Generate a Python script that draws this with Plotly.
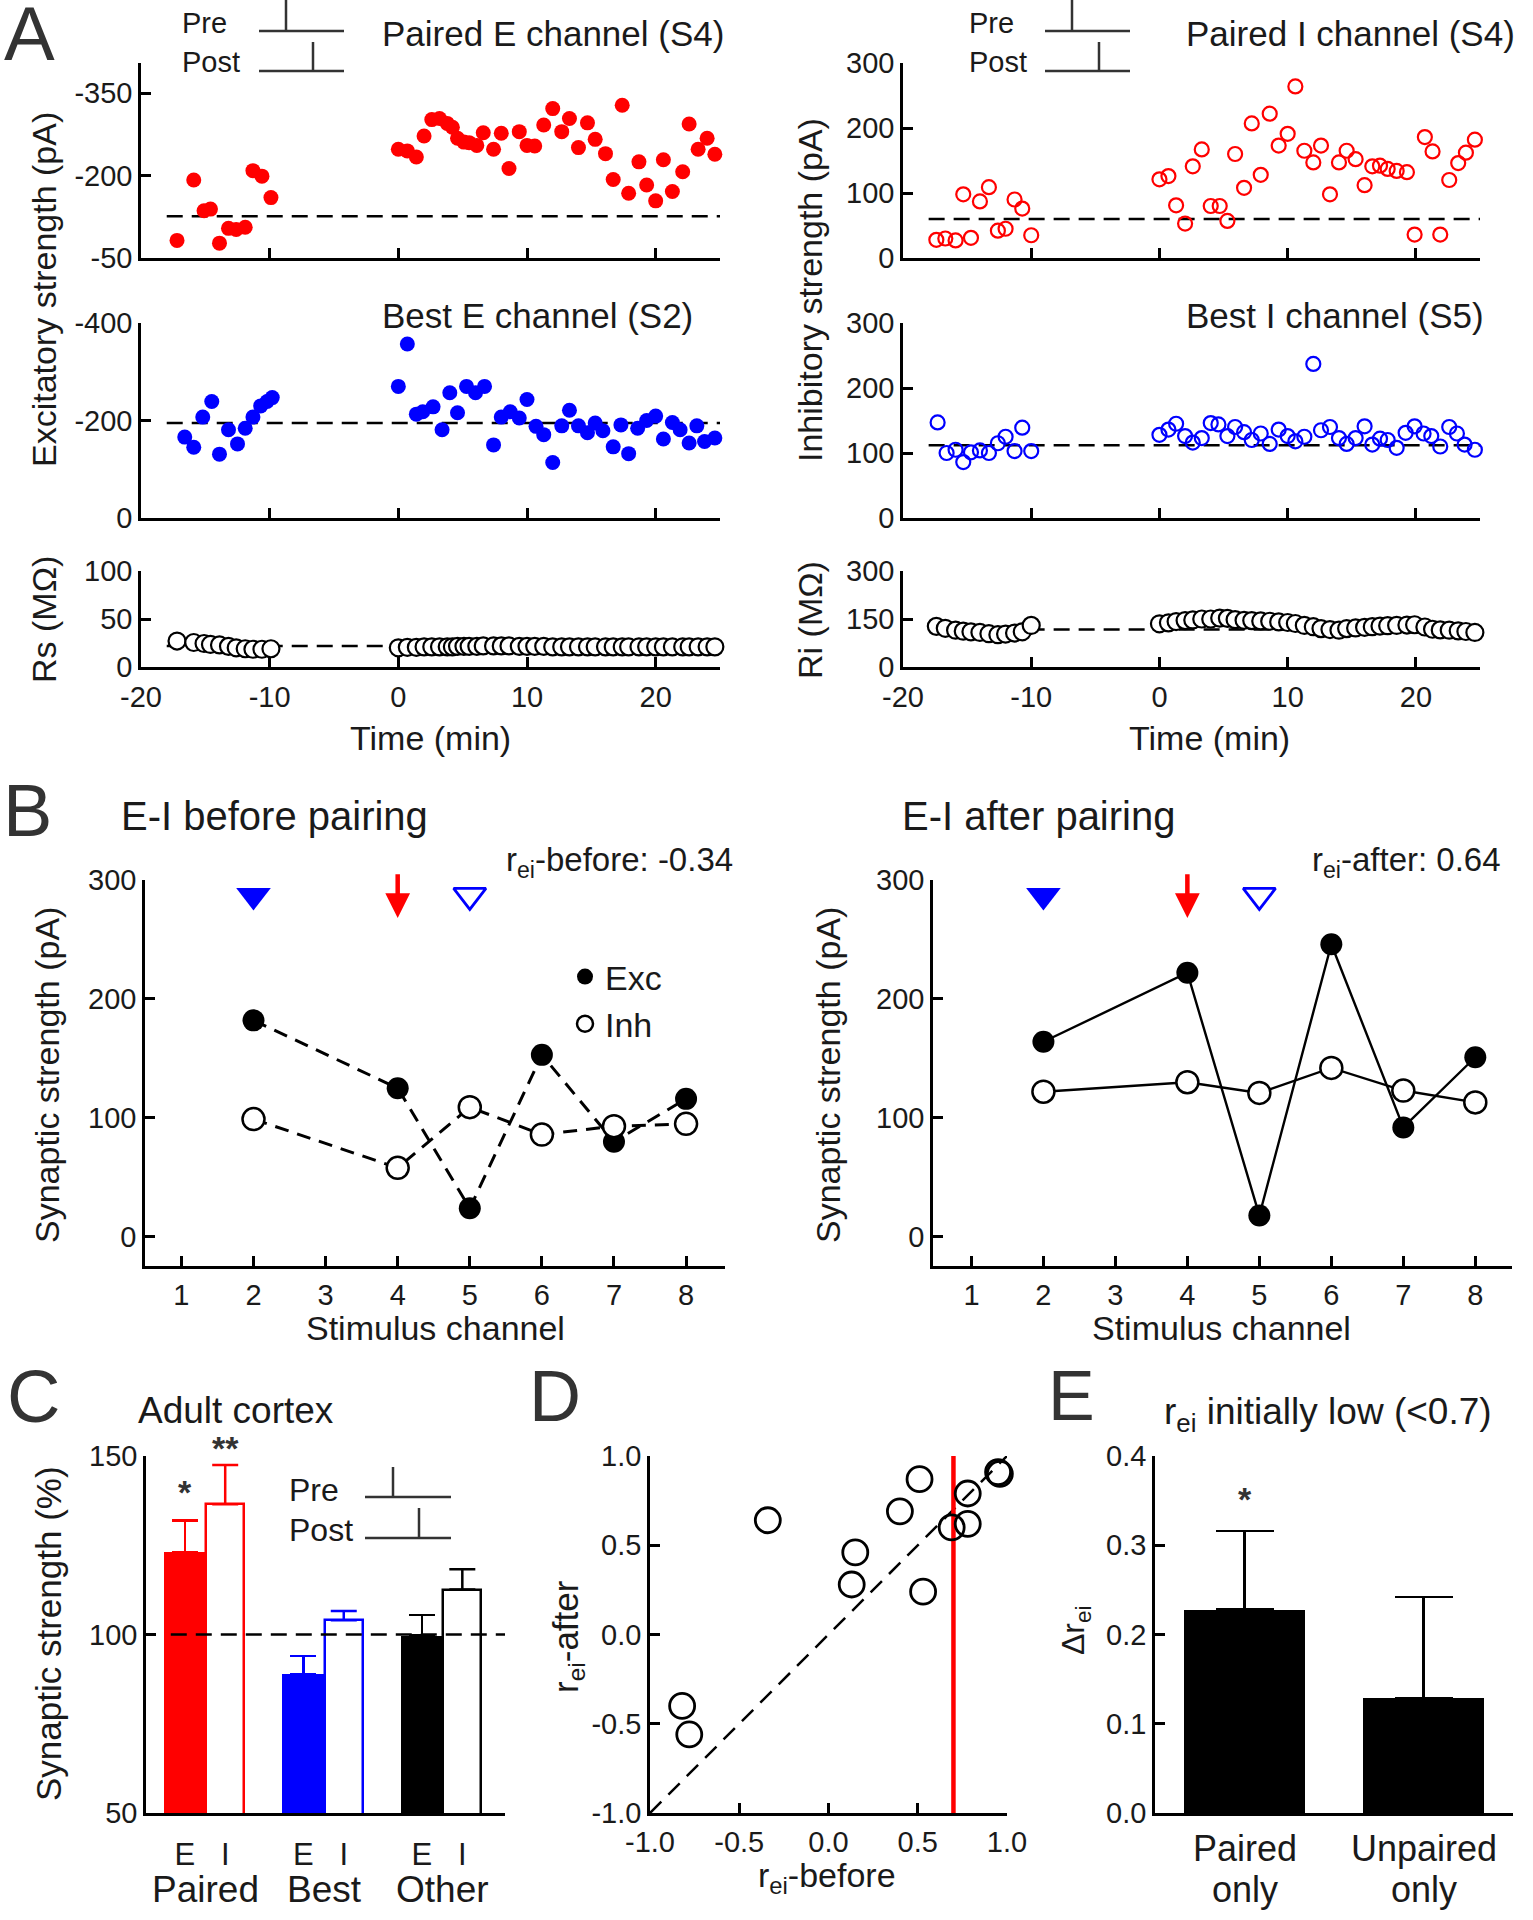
import plotly.graph_objects as go

W, H = 1533, 1920
REG = "Liberation Sans, Arial, sans-serif"
RED, BLUE, BLACK, TXT = "#ff0000", "#0000ff", "#000000", "#1a1a1a"

# ---------------- Panel A data ----------------
pe_t_pre = [-17.2, -15.9, -15.1, -14.6, -13.9, -13.2, -12.6, -11.9, -11.3, -10.6, -9.9]
pe_v_pre = [-82, -192, -136, -139, -77, -104, -102, -106, -209, -199, -160]
pe_t_post = [0.0, 0.7, 1.4, 2.0, 2.6, 3.2, 3.8, 4.2, 4.6, 5.1, 5.5, 6.1, 6.6, 7.4, 8.0, 8.6, 9.4, 10.0, 10.6, 11.3,
             12.0, 12.7, 13.3, 14.0, 14.7, 15.3, 16.1, 16.7, 17.4, 17.9, 18.7, 19.3, 20.0, 20.6, 21.3, 22.1, 22.6, 23.3, 24.0, 24.6]
pe_v_post = [-248, -245, -234, -272, -302, -304, -295, -288, -268, -261, -260, -255, -278, -248, -277, -213, -280, -255, -254, -292,
             -322, -280, -304, -251, -296, -266, -240, -193, -328, -168, -225, -183, -154, -229, -171, -207, -294, -248, -268, -239]
pe_base = -126

pi_t_pre = [-17.4, -16.7, -15.9, -15.3, -14.7, -14.0, -13.3, -12.6, -12.0, -11.3, -10.7, -10.0]
pi_v_pre = [28, 30, 27, 98, 31, 87, 109, 42, 45, 90, 76, 35]
pi_t_post = [0.0, 0.7, 1.3, 2.0, 2.6, 3.3, 4.0, 4.7, 5.3, 5.9, 6.6, 7.2, 7.9, 8.6, 9.3, 10.0, 10.6, 11.3, 12.0, 12.6,
             13.3, 14.0, 14.6, 15.3, 16.0, 16.6, 17.2, 17.8, 18.5, 19.3, 19.9, 20.7, 21.3, 21.9, 22.6, 23.3, 23.9, 24.6]
pi_v_post = [121, 126, 81, 53, 141, 167, 80, 80, 57, 160, 108, 207, 128, 222, 173, 191, 264, 165, 147, 173,
             98, 147, 165, 152, 112, 141, 142, 137, 134, 132, 36, 186, 164, 36, 120, 146, 162, 182]
pi_base = 60

be_t_pre = [-16.6, -15.9, -15.2, -14.5, -13.9, -13.2, -12.5, -11.9, -11.3, -10.7, -10.2, -9.8]
be_v_pre = [-166, -145, -207, -239, -131, -181, -152, -184, -207, -230, -239, -247]
be_t_post = [0.0, 0.7, 1.4, 1.9, 2.7, 3.4, 4.0, 4.6, 5.3, 6.0, 6.7, 7.4, 8.0, 8.7, 9.4, 10.0, 10.7, 11.3, 12.0, 12.7,
             13.3, 14.0, 14.7, 15.3, 15.9, 16.7, 17.3, 17.9, 18.6, 19.3, 20.0, 20.6, 21.3, 21.9, 22.6, 23.2, 23.8, 24.6]
be_v_post = [-270, -357, -213, -218, -228, -181, -257, -216, -270, -257, -270, -150, -207, -218, -205, -243, -188, -171, -114, -189,
             -221, -189, -175, -195, -179, -146, -191, -132, -184, -200, -209, -162, -196, -181, -154, -189, -157, -164]
be_base = -195

bi_t_pre = [-17.3, -16.6, -15.9, -15.3, -14.7, -14.0, -13.3, -12.6, -12.0, -11.3, -10.7, -10.0]
bi_v_pre = [147, 100, 105, 86, 101, 104, 100, 115, 125, 103, 139, 103]
bi_t_post = [0.0, 0.7, 1.3, 2.0, 2.6, 3.3, 4.0, 4.6, 5.3, 5.9, 6.6, 7.2, 7.9, 8.6, 9.3, 10.0, 10.6, 11.3, 12.0, 12.6,
             13.3, 14.0, 14.6, 15.3, 16.0, 16.6, 17.2, 17.8, 18.5, 19.2, 19.9, 20.6, 21.2, 21.9, 22.6, 23.2, 23.8, 24.6]
bi_v_post = [128, 136, 145, 126, 116, 123, 146, 144, 126, 140, 132, 120, 130, 114, 136, 126, 118, 125, 237, 135,
             140, 123, 114, 123, 141, 113, 122, 120, 108, 131, 141, 130, 126, 110, 140, 130, 113, 105]
bi_base = 112

rs_pre = [27, 25.5, 24.5, 23.5, 23, 21.5, 20, 19, 18.5, 18.5, 19]
rs_post = [20, 20.5, 20.5, 21, 21, 21, 21, 21, 21.5, 21.5, 21.5, 21.5, 22, 22, 22, 22, 21.5, 21.5, 21.5, 21.5,
           21, 21, 21, 21, 21, 21, 21, 21, 21, 21, 21, 21, 21, 21, 21, 21, 21, 21, 21, 21]
rs_base = 22

ri_pre = [127, 121, 115, 112, 110, 108, 104, 101, 103, 106, 110, 130]
ri_post = [135, 138, 142, 145, 147, 150, 150, 153, 152, 148, 146, 145, 144, 143, 141, 139, 136, 130, 126, 120,
           117, 115, 120, 122, 124, 126, 128, 129, 130, 131, 132, 125, 118, 116, 115, 113, 111, 108]
ri_base = 117

# ---------------- Panel B data ----------------
channels = [2, 4, 5, 6, 7, 8]
exc_before = [182, 125, 24, 153, 80, 116]
inh_before = [99, 58, 109, 86, 93, 95]
exc_after = [164, 222, 18, 246, 92, 151]
inh_after = [122, 130, 121, 142, 123, 113]
best_e_ch, paired_ch, best_i_ch = 2, 4, 5
marker_level = 287

# ---------------- Panel C data ----------------
c_groups = ["Paired", "Best", "Other"]
c_colors = [RED, BLUE, BLACK]
c_exc = [123, 89, 99.7]
c_exc_err = [9, 5, 5.7]
c_inh = [136.5, 104, 112.6]
c_inh_err = [11, 2.6, 5.7]

# ---------------- Panel D data ----------------
d_before = [-0.34, -0.82, -0.78, 0.15, 0.13, 0.40, 0.51, 0.53, 0.69, 0.78, 0.78, 0.95, 0.96]
d_after = [0.64, -0.40, -0.56, 0.46, 0.28, 0.69, 0.87, 0.24, 0.60, 0.79, 0.62, 0.91, 0.90]
d_threshold = 0.7

# ---------------- Panel E data ----------------
e_groups = [("Paired", "only"), ("Unpaired", "only")]
e_vals = [0.228, 0.129]
e_err = [0.088, 0.113]


def dx(a, b):
    return [a / W, b / W]


def dy(top, bottom):
    return [1 - bottom / H, 1 - top / H]


def px(x):
    return x / W


def py(y):
    return 1 - y / H


fig = go.Figure()
layout = dict(width=W, height=H, margin=dict(l=0, r=0, t=0, b=0, autoexpand=False),
              paper_bgcolor="white", plot_bgcolor="white", showlegend=True)


def add_axes(i, xd, yd, xkw, ykw, tsize):
    base = dict(showline=True, linecolor="black", linewidth=2.5, ticks="inside", ticklen=10,
                tickwidth=2.5, tickcolor="black", showgrid=False, zeroline=False, automargin=False,
                tickfont=dict(family=REG, size=tsize, color=TXT))
    xa = dict(base, domain=xd, anchor=("y" if i == 1 else f"y{i}"))
    xa.update(xkw)
    ya = dict(base, domain=yd, anchor=("x" if i == 1 else f"x{i}"))
    ya.update(ykw)
    layout["xaxis" if i == 1 else f"xaxis{i}"] = xa
    layout["yaxis" if i == 1 else f"yaxis{i}"] = ya


def ax(i):
    return ("x" if i == 1 else f"x{i}"), ("y" if i == 1 else f"y{i}")


# Panel A axes
LX, RX = (141, 720), (903, 1480)
ROWS = [(63, 258), (323, 518), (571, 667)]
xa_noline = dict(range=[-20, 25], tickvals=[-10, 0, 10, 20], showticklabels=False)
xa_lab = dict(range=[-20, 25], tickvals=[-20, -10, 0, 10, 20],
              ticktext=["-20", "-10", "0", "10", "20"], ticklabelstandoff=2)
AT = 29
add_axes(1, dx(*LX), dy(*ROWS[0]), xa_noline,
         dict(range=[-50, -405], tickvals=[-350, -200, -50], ticktext=["-350", "-200", "-50"]), AT)
add_axes(2, dx(*RX), dy(*ROWS[0]), xa_noline,
         dict(range=[0, 300], tickvals=[0, 100, 200, 300], ticktext=["0", "100", "200", "300"]), AT)
add_axes(3, dx(*LX), dy(*ROWS[1]), xa_noline,
         dict(range=[0, -400], tickvals=[-400, -200, 0], ticktext=["-400", "-200", "0"]), AT)
add_axes(4, dx(*RX), dy(*ROWS[1]), xa_noline,
         dict(range=[0, 300], tickvals=[0, 100, 200, 300], ticktext=["0", "100", "200", "300"]), AT)
add_axes(5, dx(*LX), dy(*ROWS[2]), xa_lab,
         dict(range=[0, 100], tickvals=[0, 50, 100], ticktext=["0", "50", "100"]), AT)
add_axes(6, dx(*RX), dy(*ROWS[2]), xa_lab,
         dict(range=[0, 300], tickvals=[0, 150, 300], ticktext=["0", "150", "300"]), AT)

# Panel B axes
by = dict(range=[-24.5, 300], tickvals=[0, 100, 200, 300])
add_axes(7, dx(145, 725), dy(880, 1266),
         dict(range=[0.495, 8.54], tickvals=[1, 2, 3, 4, 5, 6, 7, 8], ticklabelstandoff=1), by, 29)
add_axes(8, dx(933, 1512), dy(880, 1266),
         dict(range=[0.466, 8.51], tickvals=[1, 2, 3, 4, 5, 6, 7, 8], ticklabelstandoff=1), by, 29)

# Panel C axes
c_pos_e = [-0.177, 0.823, 1.823]
c_pos_i = [0.164, 1.164, 2.164]
add_axes(9, dx(146, 505), dy(1456, 1813),
         dict(range=[-0.504, 2.524], tickvals=c_pos_e + c_pos_i, ticktext=["E"] * 3 + ["I"] * 3,
              ticks="", tickfont=dict(family=REG, size=31, color=TXT), ticklabelstandoff=12),
         dict(range=[50, 150], tickvals=[50, 100, 150]), 29)

# Panel D axes
dticks = [-1, -0.5, 0, 0.5, 1]
dtext = ["-1.0", "-0.5", "0.0", "0.5", "1.0"]
add_axes(10, dx(650, 1007), dy(1456, 1813),
         dict(range=[-1, 1], tickvals=dticks, ticktext=dtext, ticklabelstandoff=1),
         dict(range=[-1, 1], tickvals=dticks, ticktext=dtext), 29)

# Panel E axes
add_axes(11, dx(1155, 1513), dy(1456, 1813),
         dict(range=[-0.5, 1.5], tickvals=[0, 1], showticklabels=False, ticks=""),
         dict(range=[0, 0.4], tickvals=[0, 0.1, 0.2, 0.3, 0.4], ticktext=["0.0", "0.1", "0.2", "0.3", "0.4"]), 29)


def sc(i, x, y, **kw):
    xa, ya = ax(i)
    fig.add_trace(go.Scatter(x=x, y=y, xaxis=xa, yaxis=ya, showlegend=False, cliponaxis=False, **kw))


filled = lambda c: dict(size=15, color=c, line=dict(width=0))
openm = lambda c: dict(size=14, color="rgba(0,0,0,0)", line=dict(width=2.2, color=c))

shapes = []
DASH = "16px,9px"


def hline(i, y, x0=-18, x1=25):
    xa, ya = ax(i)
    shapes.append(dict(type="line", xref=xa, yref=ya, x0=x0, x1=x1, y0=y, y1=y,
                       line=dict(color="black", width=2.5, dash=DASH), layer="below"))


# Panel A traces
hline(1, pe_base)
sc(1, pe_t_pre + pe_t_post, pe_v_pre + pe_v_post, mode="markers", marker=filled(RED))
hline(2, pi_base)
sc(2, pi_t_pre + pi_t_post, pi_v_pre + pi_v_post, mode="markers", marker=openm(RED))
hline(3, be_base)
sc(3, be_t_pre + be_t_post, be_v_pre + be_v_post, mode="markers", marker=filled(BLUE))
hline(4, bi_base)
sc(4, bi_t_pre + bi_t_post, bi_v_pre + bi_v_post, mode="markers", marker=openm(BLUE))
hline(5, rs_base)
sc(5, pe_t_pre + pe_t_post, rs_pre + rs_post, mode="markers",
   marker=dict(size=17, color="white", line=dict(width=2.2, color="black")))
hline(6, ri_base)
sc(6, pi_t_pre + pi_t_post, ri_pre + ri_post, mode="markers",
   marker=dict(size=17, color="white", line=dict(width=2.2, color="black")))

# Panel B traces
sc(7, channels, exc_before, mode="lines+markers", line=dict(color="black", width=3, dash="14px,9px"),
   marker=dict(size=22, color="black"))
sc(7, channels, inh_before, mode="lines+markers", line=dict(color="black", width=3, dash="14px,9px"),
   marker=dict(size=22, color="white", line=dict(width=2.5, color="black")))
sc(8, channels, exc_after, mode="lines+markers", line=dict(color="black", width=2.4),
   marker=dict(size=22, color="black"))
sc(8, channels, inh_after, mode="lines+markers", line=dict(color="black", width=2.4),
   marker=dict(size=22, color="white", line=dict(width=2.5, color="black")))
for i in (7, 8):
    sc(i, [best_e_ch], [marker_level], mode="markers",
       marker=dict(symbol="triangle-down", size=30, color=BLUE, line=dict(width=0)))
    sc(i, [best_i_ch], [marker_level], mode="markers",
       marker=dict(symbol="triangle-down-open", size=28, color=BLUE, line=dict(width=2.8, color=BLUE)))
# legend entries (Exc / Inh)
fig.add_trace(go.Scatter(x=[None], y=[None], xaxis="x7", yaxis="y7", mode="markers", name="Exc",
                         marker=dict(size=22, color="black")))
fig.add_trace(go.Scatter(x=[None], y=[None], xaxis="x7", yaxis="y7", mode="markers", name="Inh",
                         marker=dict(size=22, color="white", line=dict(width=2.5, color="black"))))

# Panel C traces
for k in range(3):
    fig.add_trace(go.Bar(x=[c_pos_e[k]], y=[c_exc[k]], width=0.357, xaxis="x9", yaxis="y9", showlegend=False,
                         marker=dict(color=c_colors[k], line=dict(width=0)),
                         error_y=dict(type="data", array=[c_exc_err[k]], arrayminus=[0], symmetric=False,
                                      color=c_colors[k], thickness=2.5, width=13)))
    fig.add_trace(go.Bar(x=[c_pos_i[k]], y=[c_inh[k]], width=0.32, xaxis="x9", yaxis="y9", showlegend=False,
                         marker=dict(color="white", line=dict(width=2.5, color=c_colors[k])),
                         error_y=dict(type="data", array=[c_inh_err[k]], arrayminus=[0], symmetric=False,
                                      color=c_colors[k], thickness=2.5, width=13)))
shapes.append(dict(type="line", xref="x9", yref="y9", x0=-0.295, x1=2.524, y0=100, y1=100,
                   line=dict(color="black", width=2.5, dash=DASH), layer="above"))

# Panel D traces
shapes.append(dict(type="line", xref="x10", yref="y10", x0=-1, x1=1, y0=-1, y1=1,
                   line=dict(color="black", width=2.5, dash="16px,10px"), layer="below"))
shapes.append(dict(type="line", xref="x10", yref="y10", x0=d_threshold, x1=d_threshold, y0=-1, y1=1,
                   line=dict(color=RED, width=4.5), layer="below"))
sc(10, d_before, d_after, mode="markers",
   marker=dict(size=25, color="rgba(0,0,0,0)", line=dict(width=2.8, color="black")))

# Panel E traces
fig.add_trace(go.Bar(x=[0, 1], y=e_vals, width=0.68, xaxis="x11", yaxis="y11", showlegend=False,
                     marker=dict(color="black", line=dict(width=0)),
                     error_y=dict(type="data", array=e_err, arrayminus=[0, 0], symmetric=False,
                                  color="black", thickness=2.5, width=29)))

# ---------------- Annotations ----------------
ann = []


def txt(x, y, s, size, xa="left", ya="middle", angle=0, color=TXT):
    ann.append(dict(x=px(x), y=py(y), xref="paper", yref="paper", text=s, showarrow=False,
                    xanchor=xa, yanchor=ya, textangle=angle,
                    font=dict(family=REG, size=size, color=color)))


# panel letters
txt(29, 34, "A", 76, xa="center", color="#333")
txt(27, 810, "B", 74, xa="center", color="#333")
txt(33, 1396, "C", 74, xa="center", color="#333")
txt(555, 1396, "D", 72, xa="center", color="#333")
txt(1071, 1396, "E", 70, xa="center", color="#333")

# Panel A texts
txt(380, 34, "Paired E channel (S4)", 35)
txt(1184, 34, "Paired I channel (S4)", 35)
txt(380, 315, "Best E channel (S2)", 35)
txt(1184, 315, "Best I channel (S5)", 35)
txt(44, 290, "Excitatory strength (pA)", 34, xa="center", angle=-90)
txt(810, 290, "Inhibitory strength (pA)", 34, xa="center", angle=-90)
txt(44, 620, "Rs (MΩ)", 34, xa="center", angle=-90)
txt(810, 620, "Ri (MΩ)", 34, xa="center", angle=-90)
txt(430, 738, "Time (min)", 34, xa="center")
txt(1209, 738, "Time (min)", 34, xa="center")
for (tx, h0, h1, v1, v2) in [(180, 259, 344, 286, 313), (967, 1045, 1130, 1072, 1099)]:
    txt(tx, 23, "Pre", 29)
    txt(tx, 62, "Post", 29)
    for (xx0, yy0, xx1, yy1) in [(h0, 31, h1, 31), (v1, 0, v1, 31), (h0, 71, h1, 71), (v2, 42, v2, 71)]:
        shapes.append(dict(type="line", xref="paper", yref="paper", x0=px(xx0), x1=px(xx1),
                           y0=py(yy0), y1=py(yy1), line=dict(color="#333", width=2.5)))

# Panel B texts
txt(119, 816, "E-I before pairing", 40)
txt(900, 816, "E-I after pairing", 40)
txt(504, 862, "r<sub>ei</sub>-before: -0.34", 33)
txt(1310, 862, "r<sub>ei</sub>-after: 0.64", 33)
txt(47, 1075, "Synaptic strength (pA)", 34, xa="center", angle=-90)
txt(828, 1075, "Synaptic strength (pA)", 34, xa="center", angle=-90)
txt(435, 1328, "Stimulus channel", 34, xa="center")
txt(1221, 1328, "Stimulus channel", 34, xa="center")
for xr, yr in [("x7", "y7"), ("x8", "y8")]:
    ann.append(dict(x=paired_ch, y=268, ax=paired_ch, ay=306, xref=xr, yref=yr, axref=xr, ayref=yr,
                    showarrow=True, arrowhead=2, arrowsize=1.1, arrowwidth=4.5, arrowcolor=RED, text=""))

# Panel C texts
txt(136, 1410, "Adult cortex", 37)
txt(48, 1634, "Synaptic strength (%)", 35, xa="center", angle=-90)
for k, g in enumerate(c_groups):
    ann.append(dict(x=k, y=py(1889), xref="x9", yref="paper", text=g, showarrow=False,
                    xanchor="center", yanchor="middle", font=dict(family=REG, size=37, color=TXT)))
ann.append(dict(x=c_pos_e[0], y=py(1492), xref="x9", yref="paper", text="<b>*</b>", showarrow=False,
                font=dict(family=REG, size=34, color="#333"), yanchor="middle"))
ann.append(dict(x=c_pos_i[0], y=py(1448), xref="x9", yref="paper", text="<b>**</b>", showarrow=False,
                font=dict(family=REG, size=34, color="#333"), yanchor="middle"))
txt(287, 1490, "Pre", 32)
txt(287, 1530, "Post", 32)
for (xx0, yy0, xx1, yy1) in [(365, 1497, 451, 1497), (393, 1467, 393, 1497), (365, 1538, 451, 1538), (419, 1508, 419, 1538)]:
    shapes.append(dict(type="line", xref="paper", yref="paper", x0=px(xx0), x1=px(xx1),
                       y0=py(yy0), y1=py(yy1), line=dict(color="#333", width=2.5)))

# Panel D texts
txt(568, 1637, "r<sub>ei</sub>-after", 35, xa="center", angle=-90)
txt(827, 1877, "r<sub>ei</sub>-before", 34, xa="center")

# Panel E texts
txt(1162, 1414, "r<sub>ei</sub> initially low (&lt;0.7)", 37)
txt(1075, 1631, "Δr<sub>ei</sub>", 32, xa="center", angle=-90)
for k, (l1, l2) in enumerate(e_groups):
    for yy, s in [(1848, l1), (1889, l2)]:
        ann.append(dict(x=k, y=py(yy), xref="x11", yref="paper", text=s, showarrow=False,
                        xanchor="center", yanchor="middle", font=dict(family=REG, size=36, color=TXT)))
ann.append(dict(x=0, y=py(1499), xref="x11", yref="paper", text="<b>*</b>", showarrow=False,
                font=dict(family=REG, size=34, color="#333"), yanchor="middle"))

layout["annotations"] = ann
layout["shapes"] = shapes
layout["legend"] = dict(x=px(565), y=py(948), xanchor="left", yanchor="top", bgcolor="rgba(0,0,0,0)",
                        font=dict(family=REG, size=34, color=TXT), itemsizing="trace",
                        tracegroupgap=0, itemwidth=30)
layout["bargap"] = 0
fig.update_layout(**layout)
fig.write_html("out.html", config={"displayModeBar": False},
               post_script="document.body.style.margin='0';")
